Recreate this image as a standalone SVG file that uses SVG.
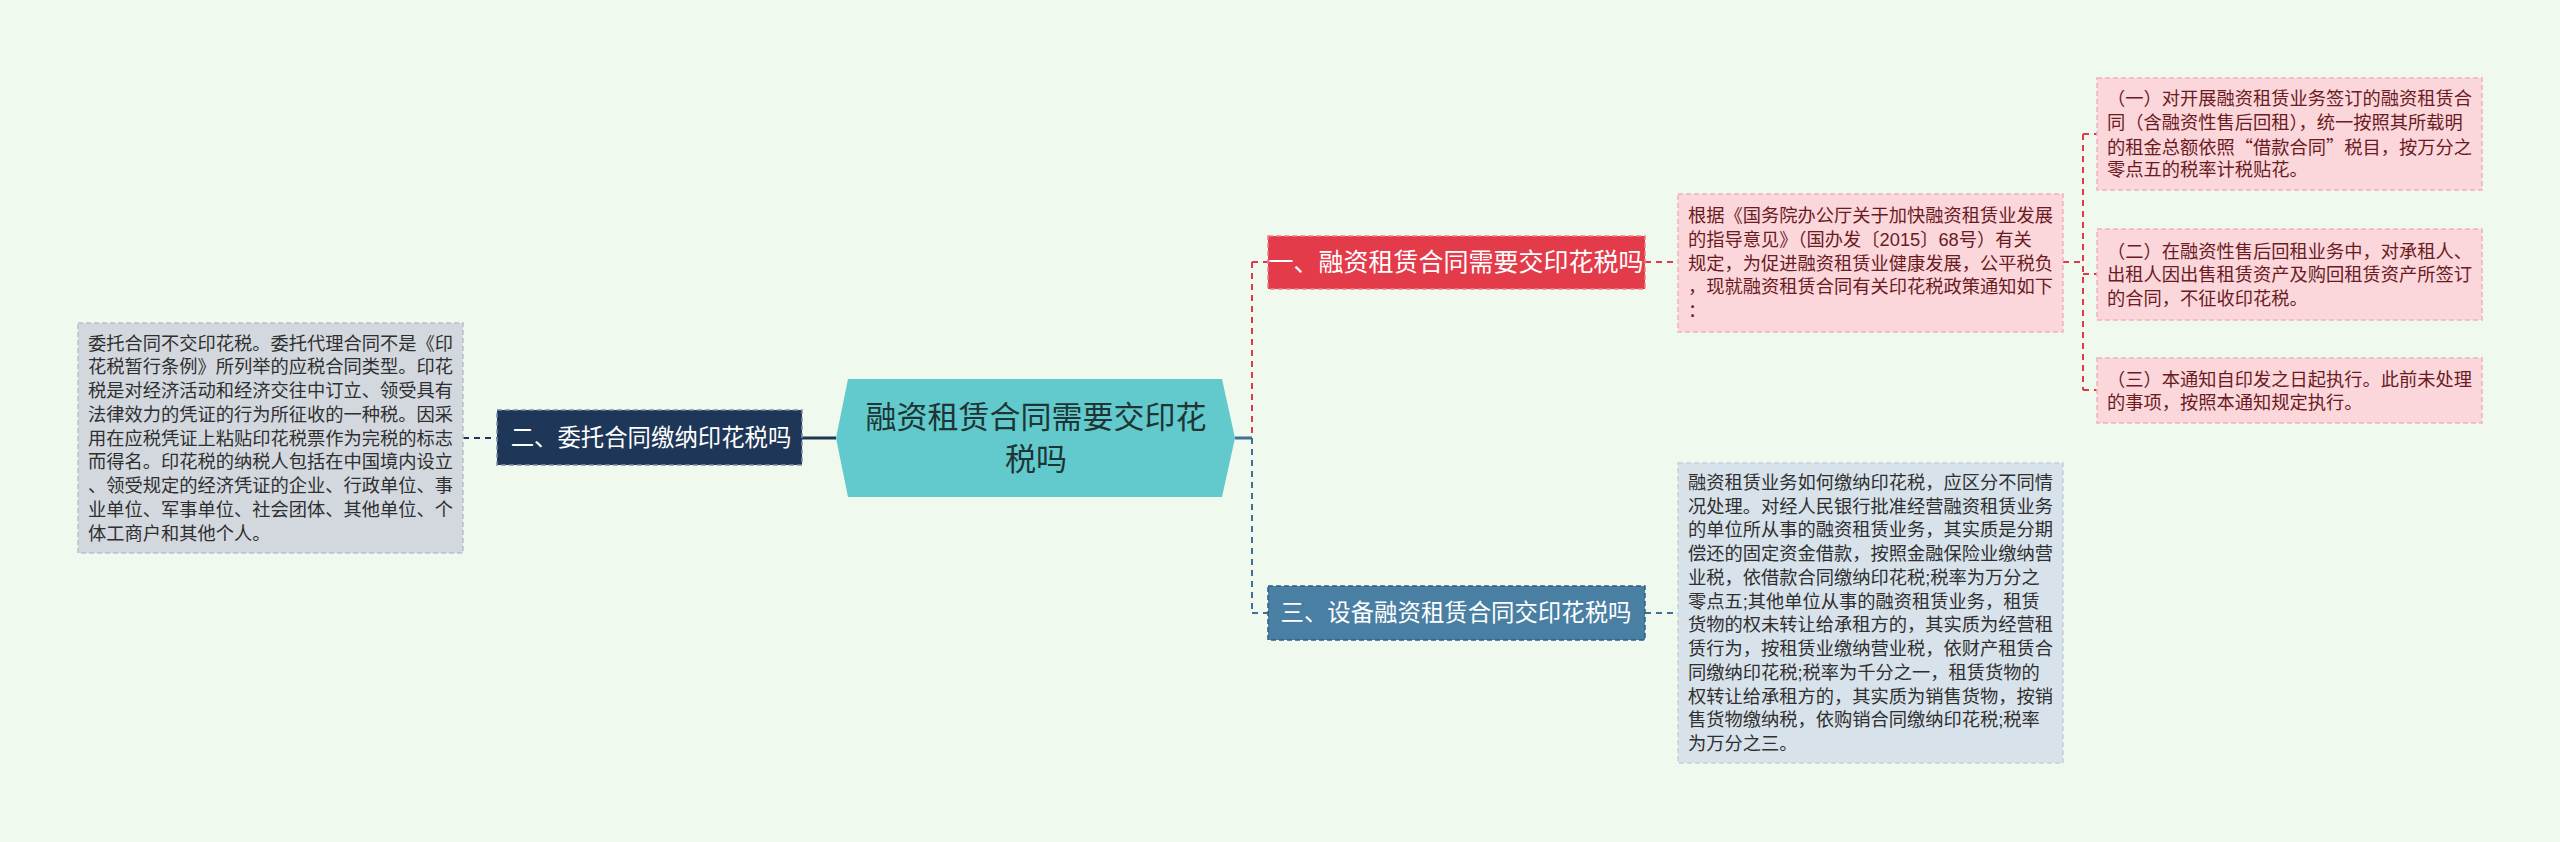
<svg xmlns="http://www.w3.org/2000/svg" width="2560" height="842" viewBox="0 0 2560 842">
<style>
text{font-family:"Liberation Sans","Noto Sans CJK SC",sans-serif;}
.cjk{font-family:"Noto Sans CJK SC",sans-serif;}
.t{font-size:18.25px;dominant-baseline:central;}
.dark{fill:#2f2f2f;}
.maroon{fill:#6a1b1f;}
.lbl{font-size:23.4px;fill:#ffffff;text-anchor:middle;dominant-baseline:central;}
.ctr{font-size:31px;fill:#1e3535;text-anchor:middle;dominant-baseline:central;}
.c-red{stroke:#e03a4a;stroke-width:2;stroke-dasharray:6 5;fill:none;}
.c-navy{stroke:#1e3657;stroke-width:2;stroke-dasharray:6 5;fill:none;}
.c-blue{stroke:#3f7095;stroke-width:2;stroke-dasharray:6 5;fill:none;}
</style>
<rect x="0" y="0" width="2560" height="842" fill="#f0f9ee"/>

<g id="connectors">
  <line x1="802" y1="438" x2="836" y2="438" stroke="#1e3657" stroke-width="3"/>
  <line x1="463" y1="438" x2="497" y2="438" class="c-navy"/>
  <line x1="1235" y1="438" x2="1252" y2="438" stroke="#3f7095" stroke-width="3"/>
  <line x1="1252" y1="262" x2="1252" y2="438" class="c-red"/>
  <line x1="1252" y1="262" x2="1268" y2="262" class="c-red"/>
  <line x1="1252" y1="438" x2="1252" y2="613" class="c-blue"/>
  <line x1="1252" y1="613" x2="1268" y2="613" class="c-blue"/>
  <line x1="1645" y1="262" x2="1678" y2="262" class="c-red"/>
  <line x1="2063" y1="262" x2="2083" y2="262" class="c-red"/>
  <line x1="2083" y1="134" x2="2083" y2="390" class="c-red"/>
  <line x1="2083" y1="134" x2="2097" y2="134" class="c-red"/>
  <line x1="2083" y1="274" x2="2097" y2="274" class="c-red"/>
  <line x1="2083" y1="390" x2="2097" y2="390" class="c-red"/>
  <line x1="1645" y1="613" x2="1678" y2="613" class="c-blue"/>
</g>

<g id="center">
  <path d="M836,438 L848,379 L1222,379 L1235,438 L1222,497 L848,497 Z" fill="#62cacc"/>
  <text class="ctr" x="1036" y="417">融资租赁合同需要交印花</text>
  <text class="ctr" x="1036" y="459">税吗</text>
</g>

<g id="node2">
  <rect x="497" y="410" width="305" height="55" fill="#1e3657" stroke="#7f8fa6" stroke-width="1.5" stroke-dasharray="5 3"/>
  <text class="lbl" x="651" y="438">二、委托合同缴纳印花税吗</text>
</g>

<g id="node2-detail">
  <rect x="78" y="323" width="385" height="230" fill="#d3d8df" stroke="#b9c0c9" stroke-width="1.5" stroke-dasharray="5 3"/>
  <text class="t dark" x="88" y="343">委托合同不交印花税。委托代理合同不是《印</text>
  <text class="t dark" x="88" y="366.75">花税暂行条例》所列举的应税合同类型。印花</text>
  <text class="t dark" x="88" y="390.5">税是对经济活动和经济交往中订立、领受具有</text>
  <text class="t dark" x="88" y="414.25">法律效力的凭证的行为所征收的一种税。因采</text>
  <text class="t dark" x="88" y="438">用在应税凭证上粘贴印花税票作为完税的标志</text>
  <text class="t dark" x="88" y="461.75">而得名。印花税的纳税人包括在中国境内设立</text>
  <text class="t dark" x="88" y="485.5">、领受规定的经济凭证的企业、行政单位、事</text>
  <text class="t dark" x="88" y="509.25">业单位、军事单位、社会团体、其他单位、个</text>
  <text class="t dark" x="88" y="533">体工商户和其他个人。</text>
</g>

<g id="node1">
  <rect x="1268" y="236" width="377" height="53" fill="#e33b4a" stroke="#f07d88" stroke-width="1.5" stroke-dasharray="5 3"/>
  <text class="lbl" x="1456" y="262" style="font-size:25px">一、融资租赁合同需要交印花税吗</text>
</g>

<g id="node1-detail">
  <rect x="1678" y="194" width="385" height="138" fill="#fbd6db" stroke="#f0b3bb" stroke-width="1.5" stroke-dasharray="5 3"/>
  <text class="t maroon" x="1688" y="215.5">根据《国务院办公厅关于加快融资租赁业发展</text>
  <text class="t maroon" x="1688" y="239.25">的指导意见》（国办发〔2015〕68号）有关</text>
  <text class="t maroon" x="1688" y="263">规定，为促进融资租赁业健康发展，公平税负</text>
  <text class="t maroon" x="1688" y="286.75">，现就融资租赁合同有关印花税政策通知如下</text>
  <text class="t maroon" x="1688" y="310.5">：</text>
</g>

<g id="sub1">
  <rect x="2097" y="78" width="385" height="112" fill="#fbd6db" stroke="#f0b3bb" stroke-width="1.5" stroke-dasharray="5 3"/>
  <text class="t maroon" x="2107" y="98.4">（一）对开展融资租赁业务签订的融资租赁合</text>
  <text class="t maroon" x="2107" y="122.1">同（含融资性售后回租），统一按照其所载明</text>
  <text class="t maroon cjk" x="2107" y="145.9">的租金总额依照“借款合同”税目，按万分之</text>
  <text class="t maroon" x="2107" y="169.6">零点五的税率计税贴花。</text>
</g>

<g id="sub2">
  <rect x="2097" y="229" width="385" height="91" fill="#fbd6db" stroke="#f0b3bb" stroke-width="1.5" stroke-dasharray="5 3"/>
  <text class="t maroon" x="2107" y="251">（二）在融资性售后回租业务中，对承租人、</text>
  <text class="t maroon" x="2107" y="274.5">出租人因出售租赁资产及购回租赁资产所签订</text>
  <text class="t maroon" x="2107" y="298">的合同，不征收印花税。</text>
</g>

<g id="sub3">
  <rect x="2097" y="358" width="385" height="65" fill="#fbd6db" stroke="#f0b3bb" stroke-width="1.5" stroke-dasharray="5 3"/>
  <text class="t maroon" x="2107" y="379">（三）本通知自印发之日起执行。此前未处理</text>
  <text class="t maroon" x="2107" y="402.5">的事项，按照本通知规定执行。</text>
</g>

<g id="node3">
  <rect x="1268" y="586" width="377" height="54" fill="#4a7fa4" stroke="#2f5f82" stroke-width="1.5" stroke-dasharray="5 3"/>
  <text class="lbl" x="1456" y="613">三、设备融资租赁合同交印花税吗</text>
</g>

<g id="node3-detail">
  <rect x="1678" y="463" width="385" height="300" fill="#d8e2eb" stroke="#c2cfdb" stroke-width="1.5" stroke-dasharray="5 3"/>
  <text class="t dark" x="1688" y="482.4">融资租赁业务如何缴纳印花税，应区分不同情</text>
  <text class="t dark" x="1688" y="506.2">况处理。对经人民银行批准经营融资租赁业务</text>
  <text class="t dark" x="1688" y="529.9">的单位所从事的融资租赁业务，其实质是分期</text>
  <text class="t dark" x="1688" y="553.6">偿还的固定资金借款，按照金融保险业缴纳营</text>
  <text class="t dark" x="1688" y="577.4">业税，依借款合同缴纳印花税;税率为万分之</text>
  <text class="t dark" x="1688" y="601.1">零点五;其他单位从事的融资租赁业务，租赁</text>
  <text class="t dark" x="1688" y="624.9">货物的权未转让给承租方的，其实质为经营租</text>
  <text class="t dark" x="1688" y="648.6">赁行为，按租赁业缴纳营业税，依财产租赁合</text>
  <text class="t dark" x="1688" y="672.4">同缴纳印花税;税率为千分之一，租赁货物的</text>
  <text class="t dark" x="1688" y="696.1">权转让给承租方的，其实质为销售货物，按销</text>
  <text class="t dark" x="1688" y="719.9">售货物缴纳税，依购销合同缴纳印花税;税率</text>
  <text class="t dark" x="1688" y="743.6">为万分之三。</text>
</g>
</svg>
